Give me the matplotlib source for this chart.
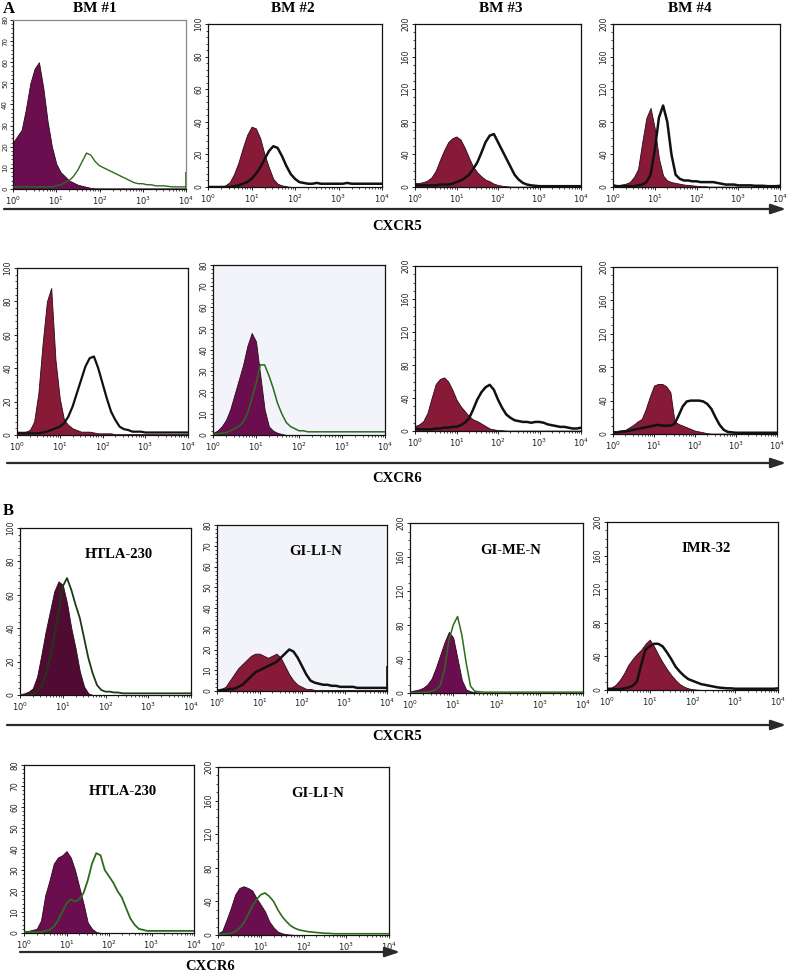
import numpy as np
import matplotlib
matplotlib.use("Agg")
from matplotlib import pyplot as plt
from matplotlib.ticker import AutoMinorLocator, LogLocator

# channel positions (log10 of fluorescence), one value every 0.1 decade
log_bins = [0.0, 0.1, 0.2, 0.3, 0.4, 0.5, 0.6, 0.7, 0.8, 0.9,
            1.0, 1.1, 1.2, 1.3, 1.4, 1.5, 1.6, 1.7, 1.8, 1.9,
            2.0, 2.1, 2.2, 2.3, 2.4, 2.5, 2.6, 2.7, 2.8, 2.9,
            3.0, 3.1, 3.2, 3.3, 3.4, 3.5, 3.6, 3.7, 3.8, 3.9, 4.0]

# A - bone marrow, CXCR5
bm1_ctrl = [22, 25, 28, 38, 50, 57, 60, 48, 32, 20, 12, 8, 6, 4, 3, 2, 1.5, 1, 0.5, 0.3,
            0.3, 0.3, 0.3, 0.3, 0.3, 0.3, 0.3, 0.3, 0.3, 0.3, 0.3, 0.3, 0.3, 0.3, 0.3, 0.3, 0.3, 0.3, 0.3, 0.3, 0.3]
bm1_cxcr5 = [1, 1, 1, 1, 1, 1, 1, 1, 1, 1, 1.5, 2, 3, 4, 6, 9, 13, 17, 16, 13,
             11, 10, 9, 8, 7, 6, 5, 4, 3, 2.5, 2.5, 2, 2, 1.5, 1.5, 1.5, 1.2, 1, 1, 1, 1]
bm2_ctrl = [0, 0, 0, 0, 1, 3, 8, 15, 24, 32, 37, 36, 30, 20, 12, 5, 2, 1, 0.5, 0,
            0, 0, 0, 0, 0, 0, 0, 0, 0, 0, 0, 0, 0, 0, 0, 0, 0, 0, 0, 0, 0]
bm2_cxcr5 = [0, 0, 0, 0, 0, 0, 0.5, 1, 2, 3, 5, 8, 12, 17, 22, 25, 24, 19, 13, 8,
             5, 3, 2.5, 2, 2, 2.5, 2, 2, 2, 2, 2, 2, 2.5, 2, 2, 2, 2, 2, 2, 2, 2]
bm3_ctrl = [5, 5, 6, 8, 12, 20, 33, 45, 55, 60, 62, 58, 48, 36, 25, 18, 13, 9, 7, 4,
            2.5, 1.5, 1, 0.5, 0.5, 0.5, 0.5, 0.5, 0.5, 0.5, 0.5, 0.5, 0.5, 0.5, 0.5, 0.5, 0.5, 0.5, 0.5, 0.5, 0.5]
bm3_cxcr5 = [2, 2, 2, 2, 2, 2, 3, 3, 3, 4, 6, 8, 11, 15, 22, 30, 42, 55, 63, 65,
             55, 45, 35, 25, 15, 9, 5, 3, 2, 1.5, 1, 1, 1, 1, 1, 1, 1, 1, 1, 1, 1]
bm4_ctrl = [3, 2, 3, 4, 6, 12, 22, 55, 85, 97, 72, 35, 14, 8, 6, 5, 4, 3, 2.5, 2,
            1.5, 1, 1, 0.5, 0.5, 0.5, 0.5, 0.5, 0.5, 0.5, 0.5, 0.5, 0.5, 0.5, 0.5, 0.5, 0.5, 0.5, 0.5, 0.5, 0.5]
bm4_cxcr5 = [2, 1, 1, 1, 1, 1, 2, 3, 6, 15, 45, 85, 100, 80, 40, 15, 10, 8, 8, 7,
             7, 6, 6, 6, 6, 5, 4, 3, 3, 3, 2, 2, 2, 2, 1.5, 1.5, 1.5, 1, 1, 1, 1.5]

# A - bone marrow, CXCR6
bm1_ctrl6 = [2, 2, 2, 3, 8, 25, 55, 80, 88, 45, 22, 9, 6, 4, 3, 2, 2, 2, 1.5, 1,
             1, 1, 1, 0.5, 0.5, 0.5, 0.5, 0.5, 0.5, 0.5, 0.5, 0.5, 0.5, 0.5, 0.5, 0.5, 0.5, 0.5, 0.5, 0.5, 0.5]
bm1_cxcr6 = [1, 1, 1, 1, 1, 1, 1.5, 2, 3, 4, 5, 7, 11, 17, 25, 33, 41, 46, 47, 40,
             31, 22, 14, 9, 5, 3.5, 3, 2, 2, 2, 1.5, 1.5, 1.5, 1.5, 1.5, 1.5, 1.5, 1.5, 1.5, 1.5, 1.5]
bm2_ctrl6 = [1, 2, 4, 7, 12, 19, 26, 33, 42, 48, 44, 28, 12, 4, 2, 1, 0.5, 0, 0, 0,
             0, 0, 0, 0, 0, 0, 0, 0, 0, 0, 0, 0, 0, 0, 0, 0, 0, 0, 0, 0, 0]
bm2_cxcr6 = [0.5, 0.5, 1, 1, 2, 3, 4, 6, 10, 17, 24, 33, 33, 28, 22, 15, 10, 6, 4, 3,
             2, 2, 1.5, 1.5, 1.5, 1.5, 1.5, 1.5, 1.5, 1.5, 1.5, 1.5, 1.5, 1.5, 1.5, 1.5, 1.5, 1.5, 1.5, 1.5, 1.5]
bm3_ctrl6 = [6, 8, 12, 22, 40, 57, 63, 65, 60, 50, 38, 30, 24, 18, 14, 12, 9, 6, 3, 2,
             1, 1, 0.5, 0.5, 0.5, 0.5, 0.5, 0.5, 0.5, 0.5, 0.5, 0.5, 0.5, 0.5, 0.5, 0.5, 0.5, 0.5, 0.5, 0.5, 0.5]
bm3_cxcr6 = [3, 2, 2, 2, 2, 3, 3, 4, 4, 5, 5, 7, 10, 15, 26, 38, 47, 53, 56, 50,
             38, 28, 20, 16, 13, 12, 11, 11, 10, 11, 11, 10, 8, 7, 6, 5, 5, 4, 3, 3, 4]
bm4_ctrl6 = [3, 3, 4, 5, 8, 11, 15, 18, 30, 45, 58, 60, 60, 57, 50, 15, 12, 10, 8, 6,
             4, 3, 2, 1, 0.5, 0.5, 0.5, 0.5, 0.5, 0.5, 0.5, 0.5, 0.5, 0.5, 0.5, 0.5, 0.5, 0.5, 0.5, 0.5, 0.5]
bm4_cxcr6 = [2, 2, 3, 3, 4, 5, 6, 7, 8, 9, 10, 11, 10, 10, 10, 12, 22, 33, 39, 40,
             40, 40, 39, 36, 30, 20, 11, 5, 2.5, 2, 1.5, 1.5, 1.5, 1.5, 1.5, 1.5, 1.5, 1.5, 1.5, 1.5, 1.5]

# B - neuroblastoma cell lines, CXCR5
htla_ctrl5 = [0.5, 1, 2, 4, 11, 24, 38, 50, 62, 68, 66, 55, 40, 28, 14, 5, 1, 0, 0, 0,
              0, 0, 0, 0, 0, 0, 0, 0, 0, 0, 0, 0, 0, 0, 0, 0, 0, 0, 0, 0, 0]
htla_cxcr5 = [0, 0, 0, 0.5, 2, 5, 12, 22, 35, 50, 65, 70, 63, 54, 46, 34, 22, 13, 6, 3,
              2, 2, 1.5, 1.5, 1, 1, 1, 1, 1, 1, 1, 1, 1, 1, 1, 1, 1, 1, 1, 1, 1]
glin_ctrl5 = [0.5, 1, 2, 5, 8, 11, 13, 15, 17, 18, 18, 17, 16, 17, 18, 16, 12, 8, 5, 3,
              2, 1, 1, 0.5, 0.5, 0.5, 0.5, 0.5, 0.5, 0.5, 0.5, 0.5, 0.5, 0.5, 0.5, 0.5, 0.5, 0.5, 0.5, 0.5, 0.5]
glin_cxcr5 = [0, 0.5, 0.5, 1, 1, 2, 3, 5, 7, 9, 10, 11, 12, 13, 14, 16, 18, 20, 19, 16,
              12, 8, 5, 4, 3.5, 3, 3, 2.5, 2.5, 2, 2, 2, 2, 1.5, 1.5, 1.5, 1.5, 1.5, 1.5, 1.5, 1.5]
gmen_ctrl5 = [2, 3, 4, 6, 10, 17, 30, 45, 60, 72, 65, 40, 15, 4, 2, 1, 0.5, 0, 0, 0,
              0, 0, 0, 0, 0, 0, 0, 0, 0, 0, 0, 0, 0, 0, 0, 0, 0, 0, 0, 0, 0]
gmen_cxcr5 = [0.5, 0.5, 0.5, 0.5, 1, 2, 4, 9, 28, 62, 80, 90, 68, 35, 8, 2, 1.5, 1, 1, 1,
              1, 1, 1, 1, 1, 1, 1, 1, 1, 1, 1, 1, 1, 1, 1, 1, 1, 1, 1, 1, 1]
imr_ctrl5 = [3, 3, 6, 12, 20, 30, 37, 43, 48, 55, 60, 52, 42, 33, 25, 18, 12, 7, 4, 2,
             1, 0.5, 0, 0, 0, 0, 0, 0, 0, 0, 0, 0, 0, 0, 0, 0, 0, 0, 0, 0, 0]
imr_cxcr5 = [1, 1, 1, 1, 2, 3, 5, 10, 30, 48, 52, 55, 55, 52, 45, 37, 28, 22, 17, 13,
             11, 9, 7, 6, 5, 4, 3, 2.5, 2, 2, 1.5, 1.5, 1.5, 1.5, 1.5, 1.5, 1.5, 1.5, 1.5, 1.5, 2]

# B - neuroblastoma cell lines, CXCR6
htla_ctrl6 = [1, 1, 1.5, 2, 6, 18, 25, 33, 36, 37, 39, 36, 30, 22, 14, 5, 2, 0.5, 0, 0,
              0, 0, 0, 0, 0, 0, 0, 0, 0, 0, 0, 0, 0, 0, 0, 0, 0, 0, 0, 0, 0]
htla_cxcr6 = [0.5, 0.5, 0.5, 0.5, 0.5, 1, 1.5, 3, 6, 10, 14, 16, 15, 16, 19, 25, 33, 38, 37, 30,
              27, 24, 20, 17, 12, 7, 4, 2, 1.5, 1, 1, 1, 1, 1, 1, 1, 1, 1, 1, 1, 1]
glin_ctrl6 = [2, 5, 18, 32, 48, 56, 58, 56, 53, 44, 36, 28, 16, 9, 4, 2, 1, 0.5, 0, 0,
              0, 0, 0, 0, 0, 0, 0, 0, 0, 0, 0, 0, 0, 0, 0, 0, 0, 0, 0, 0, 0]
glin_cxcr6 = [1, 1, 1.5, 2, 4, 8, 14, 24, 34, 42, 48, 50, 46, 40, 30, 22, 16, 11, 8, 6,
              5, 4, 3.5, 3, 2.5, 2, 2, 1.5, 1.5, 1.5, 1.5, 1.5, 1.5, 1.5, 1.5, 1.5, 1.5, 1.5, 1.5, 1.5, 1.5]

# pile-up events in the first / last channel of the stained sample
left_edge = [0, 0, 78, 20, 0, 0, 78, 78, 0, 0, 0, 28, 0, 0]
right_edge = [8, 0, 0, 0, 0, 0, 0, 0, 0, 12, 0, 0, 0, 0]

titles = ["BM #1", "BM #2", "BM #3", "BM #4"]
cell_lines = ["HTLA-230", "GI-LI-N", "GI-ME-N", "IMR-32", "HTLA-230", "GI-LI-N"]

RED = "#871a37"
PURPLE = "#6a0e50"
DARK = "#500b33"
GREEN = "#2c6a1c"
BLACK = "#111111"

W, H = 787, 972
fig = plt.figure(figsize=(W / 100, H / 100), dpi=100)
fig.patch.set_facecolor("white")

# (left, top, right, bottom) in pixels, y-max, y-step, control, stained, fill colour, line colour, line width, label
panels = [
    ((13, 20, 186, 189), 80, 10, bm1_ctrl, bm1_cxcr5, PURPLE, GREEN, 1.0, None),
    ((208, 24, 382, 187), 100, 20, bm2_ctrl, bm2_cxcr5, RED, BLACK, 1.8, None),
    ((415, 24, 581, 187), 200, 40, bm3_ctrl, bm3_cxcr5, RED, BLACK, 1.8, None),
    ((613, 24, 780, 187), 200, 40, bm4_ctrl, bm4_cxcr5, RED, BLACK, 1.8, None),
    ((17, 268, 188, 435), 100, 20, bm1_ctrl6, bm1_cxcr6, RED, BLACK, 1.6, None),
    ((213, 265, 385, 435), 80, 10, bm2_ctrl6, bm2_cxcr6, PURPLE, GREEN, 1.1, None),
    ((415, 266, 581, 431), 200, 40, bm3_ctrl6, bm3_cxcr6, RED, BLACK, 1.8, None),
    ((613, 267, 777, 434), 200, 40, bm4_ctrl6, bm4_cxcr6, RED, BLACK, 1.8, None),
    ((20, 528, 191, 695), 100, 20, htla_ctrl5, htla_cxcr5, DARK, "#1d3a14", 1.3, cell_lines[0]),
    ((217, 525, 387, 691), 80, 10, glin_ctrl5, glin_cxcr5, RED, BLACK, 1.8, cell_lines[1]),
    ((410, 523, 583, 693), 200, 40, gmen_ctrl5, gmen_cxcr5, PURPLE, GREEN, 1.1, cell_lines[2]),
    ((607, 522, 778, 690), 200, 40, imr_ctrl5, imr_cxcr5, RED, BLACK, 1.8, cell_lines[3]),
    ((24, 765, 194, 933), 80, 10, htla_ctrl6, htla_cxcr6, PURPLE, GREEN, 1.3, cell_lines[4]),
    ((218, 767, 389, 935), 200, 40, glin_ctrl6, glin_cxcr6, PURPLE, GREEN, 1.2, cell_lines[5]),
]
tinted = [5, 9]

x = 10 ** np.array(log_bins)
for i, (box, ymax, ystep, ctrl, stain, fc, lc, lw, label) in enumerate(panels):
    l, t, r, b = box
    ax = fig.add_axes([l / W, 1 - b / H, (r - l) / W, (b - t) / H])
    if i in tinted:
        ax.set_facecolor("#f2f4f9")
    ax.fill_between(x, 0, ctrl, color=fc, lw=0.6, edgecolor="#2a0a18", zorder=2)
    ax.plot(x, stain, color=lc, lw=lw, zorder=3)
    if left_edge[i]:
        ax.vlines(1.02, 0, left_edge[i], color=BLACK, lw=1.2, zorder=4)
    if right_edge[i]:
        ax.vlines(9800, 0, right_edge[i], color=lc, lw=1.2, zorder=4)
    ax.set_xscale("log")
    ax.set_xlim(1, 1e4)
    ax.set_ylim(0, ymax)
    ax.set_xticks([1, 10, 100, 1000, 10000])
    ax.xaxis.set_minor_locator(LogLocator(base=10, subs=np.arange(2, 10)))
    ax.set_yticks(np.arange(0, ymax + 1, ystep))
    ax.yaxis.set_minor_locator(AutoMinorLocator(5 if ystep in (10, 20) else 4))
    ylab = 5.0 if i == 0 else 5.5
    ax.tick_params(axis="both", which="major", length=2.5, width=0.7, direction="out", pad=1.0,
                   labelsize=ylab, colors="#222222")
    ax.tick_params(axis="both", which="minor", length=1.5, width=0.5, direction="out")
    ax.tick_params(axis="x", labelsize=6, pad=1.5)
    for lab in ax.get_yticklabels():
        lab.set_rotation(90)
        lab.set_va("center")
    for s in ax.spines.values():
        s.set_linewidth(0.9)
        s.set_color(BLACK)
    if i == 0:
        ax.spines["top"].set_color("#888888")
        ax.spines["right"].set_color("#888888")
    if label:
        ax.text(0.58, 0.84, label, transform=ax.transAxes, ha="center", va="center",
                fontsize=10.5, fontweight="bold", family="Liberation Serif")

serif = dict(family="Liberation Serif", fontweight="bold")


def ftext(px, py, s, size, **kw):
    fig.text(px / W, 1 - py / H, s, ha="center", va="center", fontsize=size, **serif, **kw)


def arrow(x0, x1, py):
    fig.add_artist(plt.Annotation("", xy=(x1 / W, 1 - py / H), xytext=(x0 / W, 1 - py / H),
                                  xycoords="figure fraction",
                                  arrowprops=dict(arrowstyle="-|>,head_length=0.9,head_width=0.3",
                                                  lw=1.6, color="#2a2a2a", shrinkA=0, shrinkB=0)))


for cx, t in zip([95, 293, 501, 690], titles):
    ftext(cx, 8, t, 11)
ftext(9, 9, "A", 12)
ftext(8, 511, "B", 12)

arrow(4, 786, 209)
ftext(397, 226, "CXCR5", 10.5)
arrow(7, 786, 463)
ftext(397, 478, "CXCR6", 10.5)
arrow(7, 786, 725)
ftext(397, 737, "CXCR5", 10.5)
arrow(20, 400, 952)
ftext(210, 966, "CXCR6", 10.5)

fig.savefig("out.png", dpi=100)
